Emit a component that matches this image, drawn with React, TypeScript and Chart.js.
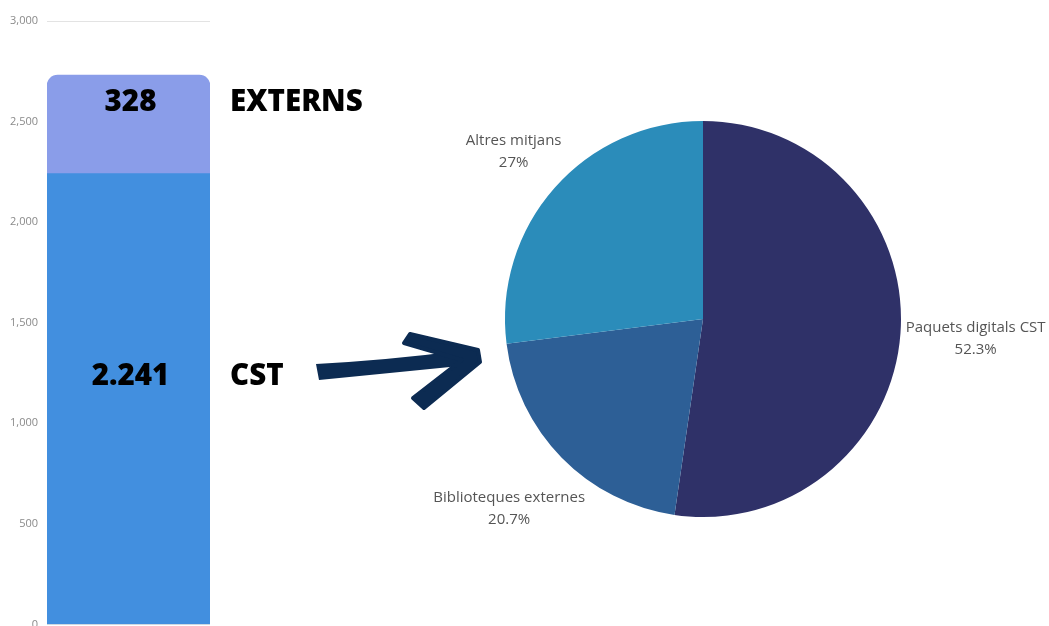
import React, { useEffect, useRef } from 'react';
import { Chart, registerables } from 'chart.js';

Chart.register(...registerables);

// ---- data ----
const categories = ['Total'];
const cstValues = [2241];
const externValues = [490];
const barValueLabels = ['2.241', '328'];
const barSeriesNames = ['CST', 'EXTERNS'];
const yMax = 3000;
const yStep = 500;

const pieLabels = ['Paquets digitals CST', 'Biblioteques externes', 'Altres mitjans'];
const pieValues = [52.3, 20.7, 27];

// ---- styles ----
const barColors = ['#428fdf', '#8a9de9'];
const labelFracs = [0.45, 0.28];
const pieColors = ['#2f3168', '#2d5f96', '#2b8cba'];

const barLabelPlugin = {
  id: 'barLabels',
  afterDatasetsDraw(chart: any) {
    const ctx = chart.ctx;
    ctx.save();
    ctx.fillStyle = '#000';
    ctx.font = '800 29.5px "Open Sans"';
    ctx.textBaseline = 'middle';
    chart.data.datasets.forEach((_: any, i: number) => {
      const el = chart.getDatasetMeta(i).data[0];
      if (!el) return;
      const p = el.getProps(['x', 'y', 'base'], true);
      const ly = p.y + (p.base - p.y) * labelFracs[i];
      ctx.textAlign = 'center';
      ctx.fillText(barValueLabels[i], p.x + 2, ly);
      ctx.textAlign = 'left';
      ctx.fillText(barSeriesNames[i], chart.chartArea.right + 20, ly);
    });
    ctx.restore();
  },
  afterDraw(chart: any) {
    // hand-drawn arrow decoration
    const ctx = chart.ctx;
    ctx.save();
    ctx.strokeStyle = '#0c2b52';
    ctx.fillStyle = '#0c2b52';
    ctx.lineCap = 'round';
    ctx.lineJoin = 'round';
    // shaft (tapered polygon)
    ctx.beginPath();
    ctx.moveTo(316, 364);
    ctx.quadraticCurveTo(390, 360, 466, 350);
    ctx.lineTo(470, 365);
    ctx.quadraticCurveTo(390, 373, 319, 380);
    ctx.closePath();
    ctx.fill();
    // head
    ctx.beginPath();
    ctx.moveTo(404, 343);
    ctx.lineTo(410, 334);
    ctx.lineTo(478, 350);
    ctx.lineTo(480, 362);
    ctx.lineTo(424, 408);
    ctx.lineTo(413, 398);
    ctx.lineTo(462, 360);
    ctx.closePath();
    ctx.fill();
    ctx.lineWidth = 4;
    ctx.stroke();
    ctx.restore();
  },
};

const pieLabelPlugin = {
  id: 'pieLabels',
  afterDatasetsDraw(chart: any) {
    const ctx = chart.ctx;
    ctx.save();
    ctx.font = '15px "Open Sans"';
    ctx.fillStyle = '#555';
    ctx.textAlign = 'center';
    ctx.textBaseline = 'middle';
    const lineH = 22;
    chart.getDatasetMeta(0).data.forEach((arc: any, i: number) => {
      const p = arc.getProps(['x', 'y', 'startAngle', 'endAngle', 'outerRadius'], true);
      const mid = (p.startAngle + p.endAngle) / 2;
      const dx = Math.cos(mid);
      const dy = Math.sin(mid);
      const l1 = pieLabels[i];
      const l2 = String(pieValues[i]) + '%';
      const w = Math.max(ctx.measureText(l1).width, ctx.measureText(l2).width);
      const h = lineH * 2;
      const ext = Math.abs(dx) * w / 2 + Math.abs(dy) * h / 2;
      const d = p.outerRadius + 4 + ext;
      const cx = p.x + dx * d;
      const cy = p.y + dy * d;
      ctx.fillText(l1, cx, cy - lineH / 2);
      ctx.fillText(l2, cx, cy + lineH / 2);
    });
    ctx.restore();
  },
};

export default function App() {
  const barRef = useRef<HTMLCanvasElement>(null);
  const pieRef = useRef<HTMLCanvasElement>(null);

  useEffect(() => {
    const bar = new Chart(barRef.current as HTMLCanvasElement, {
      type: 'bar',
      data: {
        labels: categories,
        datasets: [
          {
            label: barSeriesNames[0],
            data: cstValues,
            backgroundColor: barColors[0],
            borderWidth: 0,
          },
          {
            label: barSeriesNames[1],
            data: externValues,
            backgroundColor: barColors[1],
            borderWidth: 0,
            borderRadius: { topLeft: 11, topRight: 11, bottomLeft: 0, bottomRight: 0 },
            borderSkipped: false,
          },
        ],
      },
      options: {
        responsive: false,
        animation: false,
        layout: { padding: { top: 21, right: 290, bottom: 15, left: 0 } },
        datasets: { bar: { barPercentage: 1, categoryPercentage: 1 } },
        plugins: { legend: { display: false }, tooltip: { enabled: false } },
        scales: {
          x: { display: false, stacked: true },
          y: {
            stacked: true,
            min: 0,
            max: yMax,
            border: { display: false },
            grid: { color: '#e3e3e3', drawTicks: false },
            afterFit: (scale: any) => {
              scale.width = 47;
            },
            ticks: {
              stepSize: yStep,
              padding: 9,
              color: '#8a8a8a',
              font: { family: '"Open Sans"', size: 11 },
              callback: (v: any) => Number(v).toLocaleString('en-US'),
            },
          },
        },
      } as any,
      plugins: [barLabelPlugin],
    });

    const pie = new Chart(pieRef.current as HTMLCanvasElement, {
      type: 'pie',
      data: {
        labels: pieLabels,
        datasets: [
          {
            data: pieValues,
            backgroundColor: pieColors,
            borderWidth: 0,
          },
        ],
      },
      options: {
        responsive: false,
        animation: false,
        layout: { padding: { top: 121, right: 148, bottom: 109, left: 505 } },
        plugins: { legend: { display: false }, tooltip: { enabled: false } },
      } as any,
      plugins: [pieLabelPlugin],
    });

    return () => {
      bar.destroy();
      pie.destroy();
    };
  }, []);

  return (
    <div
      style={{
        position: 'absolute',
        left: 0,
        top: 0,
        width: 1049,
        height: 626,
        overflow: 'hidden',
        background: '#fff',
      }}
    >
      <canvas
        ref={barRef}
        width={500}
        height={640}
        style={{ position: 'absolute', left: 0, top: 0, width: 500, height: 640 }}
      />
      <canvas
        ref={pieRef}
        width={1049}
        height={626}
        style={{ position: 'absolute', left: 0, top: 0, width: 1049, height: 626 }}
      />
    </div>
  );
}
